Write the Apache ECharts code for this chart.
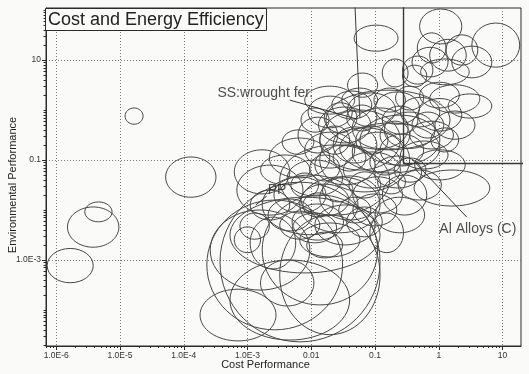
<!DOCTYPE html>
<html>
<head>
<meta charset="utf-8">
<script src="https://cdn.jsdelivr.net/npm/echarts@6/dist/echarts.min.js"></script>
<style>
html,body{margin:0;padding:0;background:#fafaf8;}
#chart{width:529px;height:374px;}
</style>
</head>
<body>
<div id="chart"></div>
<script>
// ---- Data: each bubble is a range of cost performance and environmental performance ----
const costLow  = [1.2e-5,5.2e-5,2.8e-6,1.5e-6,7.2e-7, 0.047,0.50,3.3,0.72,1.3,0.38,1.6,0.27,0.52,0.13,0.27,0.037,0.72,1.4,0.46, 0.017,
  0.0089,0.021,0.037,0.10,0.25,0.47,0.013,0.044,0.14,0.35,0.0062,0.016,0.0022,0.0079,0.022,0.044,0.12,0.25,0.0114,0.032,0.096,0.0016,0.0042,0.0136,0.028,
  0.0026,0.0069,0.0136,0.045,0.13,0.0021,0.0050,0.0114,0.036,0.10,0.0032,0.0017,0.0051,0.083,0.0066,0.41,
  6.2e-4,6.8e-4,6.2e-4,7.6e-4,0.0011,
  2.3e-4,3.7e-4,0.0017,1.8e-4,5.3e-4,5.3e-4,0.0032,2.6e-4,0.0016,
  0.0069,0.036,0.096,0.21,0.0136,0.050,0.12,0.022,0.083,0.20,0.0095,0.039,0.015,0.0048,0.11,0.027,0.0035,0.38,0.75,0.0074,
  0.42,0.23,0.87,0.0032,0.0011,0.030,0.13,0.045,0.0066,0.0136,0.058,0.0079,0.50,0.0085];
const costHigh = [2.3e-5,3.2e-4,7.5e-6,9.6e-6,3.8e-6, 0.23,2.3,18.6,2.7,4.1,1.4,6.8,0.81,3.0,0.33,0.65,0.11,4.4,6.8,1.3, 1.5,
  0.044,0.089,0.21,0.50,1.04,2.3,0.086,0.33,0.87,1.7,0.026,0.052,0.0195,0.048,0.107,0.28,0.58,1.4,0.10,0.25,0.54,0.0095,0.031,0.25,1.04,
  0.017,0.039,0.12,0.27,0.65,0.0102,0.032,0.10,0.13,0.60,0.17,0.054,0.025,0.28,0.058,6.3,
  0.0046,0.0074,0.0016,0.0022,0.0057,
  0.031,0.12,0.11,0.0028,0.040,0.12,0.12,0.0095,0.011,
  0.019,0.107,0.30,0.58,0.040,0.16,0.35,0.072,0.25,0.63,0.028,0.123,0.045,0.013,0.30,0.086,0.011,1.2,2.05,0.022,
  2.6,1.1,3.7,0.0136,0.0046,0.11,0.47,0.22,0.12,0.35,1.04,0.048,2.1,0.031];
const envLow   = [0.52,0.018,0.0058,0.0018,3.5e-4, 15,21,7.2,6.0,7.9,4.6,4.4,3.3,3.2,2.9,2.9,1.8,0.87,0.69,8.7, 0.16,
  0.44,0.66,0.46,0.52,0.46,0.38,0.22,0.17,0.17,0.166,0.138,0.35,0.044,0.069,0.087,0.058,0.076,0.066,0.032,0.0275,0.0275,0.032,0.019,0.063,0.055,
  0.0087,0.0076,0.0063,0.0087,0.0079,0.0038,0.0025,0.0020,0.0029,0.0035,0.0079,0.0032,0.0022,0.0014,0.00115,0.012,
  0.021,0.0079,0.0014,0.0026,6.6e-4,
  4.0e-5,2.3e-5,1.26e-4,2.4e-5,2.5e-5,5.5e-4,3.2e-5,2.5e-4,1.2e-4,
  0.36,0.38,0.91,1.0,0.13,0.13,0.166,0.060,0.050,0.036,0.038,0.0174,0.0145,0.018,0.021,0.0055,0.13,0.275,0.145,0.0072,
  0.040,0.0158,0.26,0.0026,0.0063,0.91,0.33,0.0048,0.0035,0.023,0.079,0.83,1.1,0.0011];
const envHigh  = [1.1,0.115,0.0145,0.0115,0.0017, 50,105,55,26,32,18,19,12,10.5,10.5,7.9,5.5,3.2,2.1,35, 2.5,
  1.9,2.4,2.2,2.3,1.8,1.7,1.15,1.1,0.91,0.60,0.72,1.4,0.275,0.36,0.46,0.36,0.33,0.24,0.20,0.145,0.12,0.126,0.10,1.0,0.55,
  0.046,0.033,0.048,0.046,0.050,0.0166,0.0132,0.0126,0.0115,0.018,0.20,0.050,0.0087,0.0087,0.0055,0.063,
  0.16,0.079,0.0046,0.0087,0.0072,
  0.0158,0.036,0.020,2.6e-4,0.001,0.018,0.0079,0.01,0.001,
  1.1,1.26,2.75,3.0,0.48,0.48,0.60,0.20,0.166,0.11,0.126,0.058,0.044,0.055,0.063,0.018,0.40,0.91,0.44,0.022,
  0.16,0.063,0.955,0.0095,0.025,2.75,1.2,0.021,0.046,0.44,0.79,3.0,3.6,0.0036];

// axis ticks / labels
const xTickValues = [1e-6,1e-5,1e-4,1e-3,0.01,0.1,1,10];
const xTickLabels = ['1.0E-6','1.0E-5','1.0E-4','1.0E-3','0.01','0.1','1','10'];
const yLabelValues = [10,0.1,0.001];
const yLabelTexts = ['10','0.1','1.0E-3'];
const yOtherDecades = [100,1,0.01,1e-4];

// annotations (data coordinates)
const labelTexts = ['SS:wrought fer.','PP','Al Alloys (C)'];
const labelCost  = [0.0107, 0.0029, 4.1];
const labelEnv   = [2.2, 0.025, 0.0042];
const leaderSS = [[0.0046,1.58],[0.052,0.66]];
const leaderPP = [[0.0020,0.019],[0.00135,0.0126]];
const leaderAl = [[0.39,0.10],[2.75,0.0072]];
const boundaryA = [[0.047,300],[0.058,0.69]];
const boundaryB = [[0.28,300],[0.28,0.085],[40,0.085]];

const xMin = 6.9e-7, xMax = 19.5, yMin = 1.9e-5, yMax = 110;

function minors(lo, hi) {
  const out = [];
  for (let e = lo; e <= hi; e++) for (let m = 2; m <= 9; m++) out.push(m * Math.pow(10, e));
  return out;
}
const xMinor = minors(-7, 1);
const yMinor = minors(-5, 2).concat(yOtherDecades);

const bubbles = costLow.map((v, i) => [v, costHigh[i], envLow[i], envHigh[i]]);
const FONT = '"Liberation Sans", Arial, sans-serif';
const INK = '#2b2b2b';
const gridBox = {left: 46, right: 8, top: 8, bottom: 28, outerBoundsMode: 'none', containLabel: false};

const chart = echarts.init(document.getElementById('chart'), null, {renderer: 'canvas'});
chart.setOption({
  backgroundColor: '#fafaf8',
  animation: false,
  title: {
    text: 'Cost and Energy Efficiency',
    left: 45, top: 8,
    padding: [3, 3, 2, 3],
    borderColor: INK, borderWidth: 1,
    backgroundColor: '#fafaf8',
    textStyle: {fontFamily: FONT, fontSize: 18, fontWeight: 'normal', color: '#222'}
  },
  grid: [
    Object.assign({show: true, borderColor: INK, borderWidth: 1, backgroundColor: 'transparent'}, gridBox),
    Object.assign({show: false}, gridBox)
  ],
  xAxis: [
    {
      type: 'log', gridIndex: 0, min: xMin, max: xMax, position: 'bottom',
      name: 'Cost Performance', nameLocation: 'middle', nameGap: 13, nameMoveOverlap: false,
      nameTextStyle: {fontFamily: FONT, fontSize: 11, color: '#222', padding: [0, 36, 0, 0]},
      axisLine: {show: true, lineStyle: {color: INK, width: 1}},
      axisTick: {show: true, customValues: xTickValues, length: 4, inside: false, lineStyle: {color: INK}},
      axisLabel: {show: true, customValues: xTickValues, margin: 5, fontFamily: FONT, fontSize: 8.5, color: '#333',
        formatter: v => { const i = xTickValues.findIndex(t => Math.abs(Math.log10(t) - Math.log10(v)) < 1e-6); return i >= 0 ? xTickLabels[i] : ''; }},
      splitLine: {show: true, lineStyle: {color: '#7a7a7a', width: 1, type: [1, 2]}}
    },
    {
      type: 'log', gridIndex: 1, min: xMin, max: xMax, position: 'bottom',
      axisLine: {show: false},
      axisTick: {show: true, customValues: xMinor, length: 2, lineStyle: {color: INK}},
      axisLabel: {show: false},
      splitLine: {show: false}
    }
  ],
  yAxis: [
    {
      type: 'log', gridIndex: 0, min: yMin, max: yMax, position: 'left',
      name: 'Environmental Performance', nameLocation: 'middle', nameGap: 28, nameRotate: 90, nameMoveOverlap: false,
      nameTextStyle: {fontFamily: FONT, fontSize: 11, color: '#222', padding: [0, 16, 0, 0]},
      axisLine: {show: true, lineStyle: {color: INK, width: 1}},
      axisTick: {show: true, customValues: yLabelValues, length: 4, lineStyle: {color: INK}},
      axisLabel: {show: true, customValues: yLabelValues, margin: 5, fontFamily: FONT, fontSize: 8.5, color: '#333',
        formatter: v => { const i = yLabelValues.findIndex(t => Math.abs(Math.log10(t) - Math.log10(v)) < 1e-6); return i >= 0 ? yLabelTexts[i] : ''; }},
      splitLine: {show: true, lineStyle: {color: '#7a7a7a', width: 1, type: [1, 2]}}
    },
    {
      type: 'log', gridIndex: 1, min: yMin, max: yMax, position: 'left',
      axisLine: {show: false},
      axisTick: {show: true, customValues: yMinor, length: 2.5, lineStyle: {color: INK}},
      axisLabel: {show: false},
      splitLine: {show: false}
    }
  ],
  series: [
    {
      type: 'custom', name: 'materials', xAxisIndex: 0, yAxisIndex: 0,
      clip: true, silent: true,
      data: bubbles,
      encode: {x: [0, 1], y: [2, 3]},
      renderItem: function (params, api) {
        const a = api.coord([api.value(0), api.value(2)]);
        const b = api.coord([api.value(1), api.value(3)]);
        return {
          type: 'ellipse',
          shape: {cx: (a[0] + b[0]) / 2, cy: (a[1] + b[1]) / 2, rx: Math.abs(b[0] - a[0]) / 2, ry: Math.abs(b[1] - a[1]) / 2},
          style: {fill: 'none', stroke: '#474747', lineWidth: 1}
        };
      }
    },
    {type: 'line', data: boundaryA, symbol: 'none', silent: true, clip: true, lineStyle: {color: '#3a3a3a', width: 1}},
    {type: 'line', data: boundaryB, symbol: 'none', silent: true, clip: true, lineStyle: {color: '#3a3a3a', width: 1.4}},
    {type: 'line', data: leaderSS, symbol: 'none', silent: true, lineStyle: {color: '#333', width: 1}},
    {type: 'line', data: leaderPP, symbol: 'none', silent: true, lineStyle: {color: '#333', width: 1}},
    {type: 'line', data: leaderAl, symbol: 'none', silent: true, lineStyle: {color: '#333', width: 1}},
    {
      type: 'scatter', silent: true, symbolSize: 0, z: 5,
      data: labelTexts.map((t, i) => ({name: t, value: [labelCost[i], labelEnv[i]],
        label: {align: i === 0 ? 'right' : 'center'}})),
      label: {show: true, position: 'inside', formatter: '{b}', fontFamily: FONT, fontSize: 14, color: '#222',
        verticalAlign: 'middle'}
    }
  ]
});
</script>
</body>
</html>
